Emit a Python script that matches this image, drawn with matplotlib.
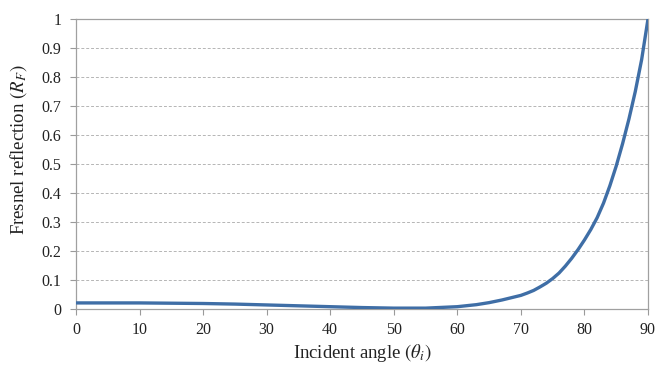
import matplotlib
matplotlib.use("Agg")
import matplotlib.pyplot as plt

plt.rcParams["font.family"] = ["Liberation Serif", "DejaVu Serif"]
plt.rcParams["mathtext.fontset"] = "stix"

# Incident angle (degrees) and Fresnel reflectance
angle = [0, 5, 10, 15, 20, 25, 30, 35, 40, 45, 50, 55, 60, 63, 65, 67, 70,
         71, 72, 73, 74, 75, 76, 77, 78, 79, 80, 81, 82, 83, 84, 85, 86,
         87, 88, 89, 90]
reflect = [0.021, 0.021, 0.021, 0.020, 0.019, 0.017, 0.014, 0.011, 0.008,
           0.005, 0.003, 0.003, 0.008, 0.015, 0.022, 0.031, 0.047,
           0.055, 0.064, 0.076, 0.089, 0.105, 0.124, 0.148, 0.175, 0.205,
           0.238, 0.274, 0.315, 0.365, 0.425, 0.493, 0.570, 0.655, 0.750,
           0.860, 1.0]

x_ticks = [0, 10, 20, 30, 40, 50, 60, 70, 80, 90]
y_ticks = [0, 0.1, 0.2, 0.3, 0.4, 0.5, 0.6, 0.7, 0.8, 0.9, 1]
y_tick_labels = ["0", "0.1", "0.2", "0.3", "0.4", "0.5", "0.6", "0.7",
                 "0.8", "0.9", "1"]

fig = plt.figure(figsize=(6.57, 3.65), dpi=100)
ax = fig.add_axes([0.1157, 0.1534, 0.8706, 0.7946])

ax.plot(angle, reflect, color="#3f6ea6", lw=2.4, solid_capstyle="round",
        solid_joinstyle="round", zorder=3)

ax.set_xlim(0, 90)
ax.set_ylim(0, 1)
ax.set_xticks(x_ticks)
ax.set_yticks(y_ticks)
ax.set_yticklabels(y_tick_labels)
ax.tick_params(axis="both", labelsize=11.5, length=4.5, width=0.8,
               color="#9a9a9a", labelcolor="#222222")
ax.tick_params(axis="y", pad=6)
ax.tick_params(axis="x", pad=5)

ax.yaxis.grid(True, color="#b5b5b5", lw=0.7, ls=(0, (3, 2)))
ax.set_axisbelow(True)
for s in ax.spines.values():
    s.set_color("#a0a0a0")
    s.set_linewidth(0.9)

ax.set_xlabel(r"Incident angle $(\theta_i)$", fontsize=13.5, color="#222222",
              labelpad=3)
ax.set_ylabel(r"Fresnel reflection $(R_F)$", fontsize=13.5, color="#222222")
ax.yaxis.set_label_coords(-0.082, 0.55)

fig.savefig("out.png", dpi=100)
